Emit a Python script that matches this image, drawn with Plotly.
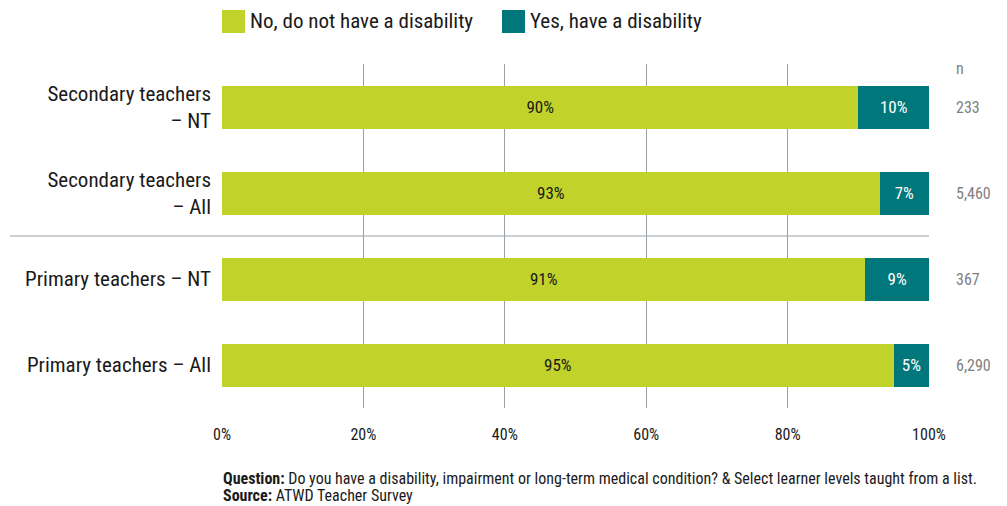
import plotly.graph_objects as go

categories = ["Secondary teachers<br>– NT", "Secondary teachers<br>– All",
              "Primary teachers – NT", "Primary teachers – All"]
no_disability = [90, 93, 91, 95]
yes_disability = [10, 7, 9, 5]
n_values = ["233", "5,460", "367", "6,290"]
tick_vals = [0, 20, 40, 60, 80, 100]
tick_text = ["0%", "20%", "40%", "60%", "80%", "100%"]
series_names = ["No, do not have a disability", "Yes, have a disability"]

GREEN = "#c1d22b"
TEAL = "#00777a"
FONT = "Liberation Sans Narrow, Roboto Condensed, Arial Narrow, sans-serif"

fig = go.Figure()
fig.add_trace(go.Bar(
    y=categories, x=no_disability, orientation="h", name=series_names[0],
    marker=dict(color=GREEN, line=dict(width=0)),
    text=[f"{v}%" for v in no_disability], textposition="inside",
    insidetextanchor="middle", textfont=dict(color="#1a1a1a", size=17, family=FONT),
    width=0.5, showlegend=False,
))
fig.add_trace(go.Bar(
    y=categories, x=yes_disability, orientation="h", name=series_names[1],
    marker=dict(color=TEAL, line=dict(width=0)),
    text=[f"{v}%" for v in yes_disability], textposition="inside",
    insidetextanchor="middle", textfont=dict(color="white", size=17, family=FONT),
    width=0.5, showlegend=False,
))

L, R, T, B = 222, 929, 64, 408
W, H = R - L, B - T

def px(x):
    return (x - L) / W

def py(y):
    return (B - y) / H

shapes = []
annotations = []
# custom legend
legend_items = [(222, series_names[0], GREEN), (502, series_names[1], TEAL)]
for x0, name, col in legend_items:
    shapes.append(dict(type="rect", xref="paper", yref="paper",
                       x0=px(x0), x1=px(x0 + 23), y0=py(33), y1=py(10),
                       fillcolor=col, line=dict(width=0)))
    annotations.append(dict(xref="paper", yref="paper", x=px(x0 + 26), y=py(21.5),
                            xanchor="left", yanchor="middle", text=name, showarrow=False,
                            font=dict(size=21, color="#1a1a1a", family=FONT)))
# separator line between secondary and primary groups
shapes.append(dict(type="line", xref="paper", yref="y", x0=px(10), x1=1,
                   y0=1.5, y1=1.5, line=dict(color="#9aa0a6", width=1)))
# n column
annotations.append(dict(xref="paper", yref="paper", x=px(954), y=py(68),
                        xanchor="left", yanchor="middle", text="n", showarrow=False,
                        font=dict(size=16, color="#808080", family=FONT)))
for i, n in enumerate(n_values):
    annotations.append(dict(xref="paper", yref="y", x=px(954), y=i,
                            xanchor="left", yanchor="middle", text=n, showarrow=False,
                            font=dict(size=16, color="#808080", family=FONT)))
# footer
annotations.append(dict(xref="paper", yref="paper", x=px(221), y=py(478),
                        xanchor="left", yanchor="middle", showarrow=False,
                        text="<b>Question:</b> Do you have a disability, impairment or long-term medical condition? &amp; Select learner levels taught from a list.",
                        font=dict(size=16, color="#1a1a1a", family=FONT)))
annotations.append(dict(xref="paper", yref="paper", x=px(221), y=py(495),
                        xanchor="left", yanchor="middle", showarrow=False,
                        text="<b>Source:</b> ATWD Teacher Survey",
                        font=dict(size=16, color="#1a1a1a", family=FONT)))

fig.update_layout(
    barmode="stack",
    width=1007, height=506,
    margin=dict(l=L, r=1007 - R, t=T, b=506 - B, pad=0),
    paper_bgcolor="white", plot_bgcolor="white",
    font=dict(family=FONT, color="#1a1a1a"),
    xaxis=dict(range=[0, 100], tickvals=tick_vals, ticktext=tick_text,
               showgrid=True, gridcolor="#9aa0a6", gridwidth=1, zeroline=False,
               showline=False, ticks="", ticklabelstandoff=15,
               tickfont=dict(size=16, color="#1a1a1a", family=FONT), fixedrange=True),
    yaxis=dict(categoryorder="array", categoryarray=categories, autorange="reversed",
               showgrid=False, zeroline=False, showline=False, ticks="",
               ticklabelstandoff=10,
               tickfont=dict(size=21, color="#1a1a1a", family=FONT)),
    shapes=shapes, annotations=annotations,
    showlegend=False,
)
fig.write_html("out.html")
